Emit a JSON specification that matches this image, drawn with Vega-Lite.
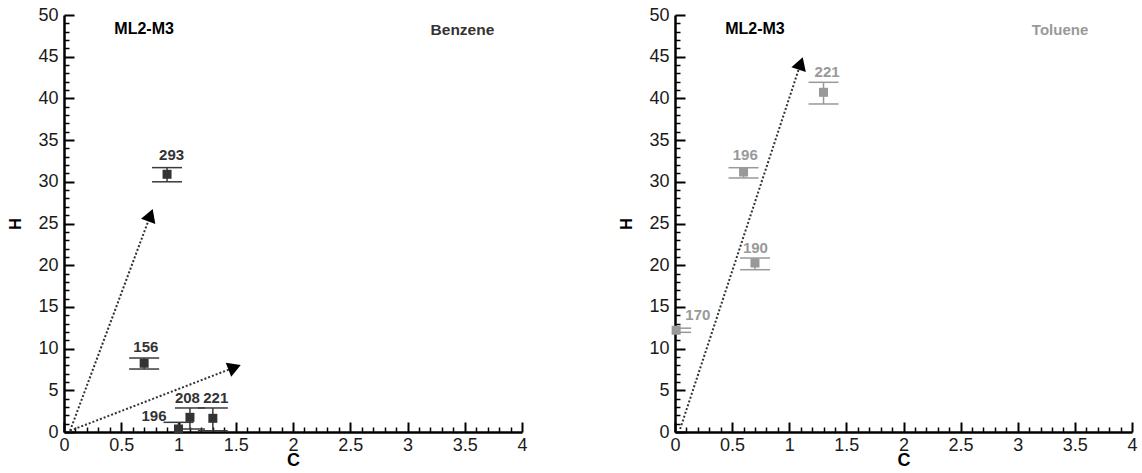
{
  "$schema": "https://vega.github.io/schema/vega-lite/v6.json",
  "padding": {"left": 7, "top": 6, "right": 0, "bottom": 0},
  "background": "white",
  "config": {"view": {"stroke": null}, "axis": {"grid": false}},
  "datasets": {
    "benz": [
      {"n": "293", "x": 0.90, "y": 30.9, "lo": 30.0, "hi": 31.7, "lx": 0.94, "ly": 33.2},
      {"n": "156", "x": 0.70, "y": 8.24, "lo": 7.55, "hi": 8.87, "lx": 0.715, "ly": 10.2},
      {"n": "208", "x": 1.10, "y": 1.76, "lo": 0.36, "hi": 2.88, "lx": 1.078, "ly": 4.08},
      {"n": "221", "x": 1.30, "y": 1.64, "lo": 0.15, "hi": 2.88, "lx": 1.325, "ly": 4.08},
      {"n": "196", "x": 1.00, "y": 0.36, "lo": -0.44, "hi": 1.16, "lx": 0.786, "ly": 1.95}
    ],
    "tol": [
      {"n": "221", "x": 1.30, "y": 40.73, "lo": 39.33, "hi": 41.93, "lx": 1.331, "ly": 43.13},
      {"n": "196", "x": 0.60, "y": 31.17, "lo": 30.46, "hi": 31.69, "lx": 0.615, "ly": 33.25},
      {"n": "190", "x": 0.70, "y": 20.26, "lo": 19.46, "hi": 20.86, "lx": 0.704, "ly": 22.06},
      {"n": "170", "x": 0.01, "y": 12.2, "lo": 11.95, "hi": 12.45, "lx": 0.20, "ly": 14.03}
    ],
    "notesL": [
      {"t": "ML2-M3", "x": 0.70, "y": 48.3, "k": "panel"},
      {"t": "Benzene", "x": 3.48, "y": 48.2, "k": "benzene"}
    ],
    "notesR": [
      {"t": "ML2-M3", "x": 0.70, "y": 48.3, "k": "panel"},
      {"t": "Toluene", "x": 3.37, "y": 48.2, "k": "toluene"}
    ],
    "arrowsL": [
      {"id": 1, "x1": 0.053, "y1": 0.15, "x2": 0.755, "y2": 26.0},
      {"id": 2, "x1": 0.053, "y1": 0.15, "x2": 1.49, "y2": 7.75}
    ],
    "arrowsR": [
      {"id": 1, "x1": 0.045, "y1": 0.36, "x2": 1.10, "y2": 44.2}
    ]
  },
  "hconcat": [
    {
      "width": 458, "height": 417,
      "resolve": {"axis": {"x": "independent", "y": "independent"}},
      "layer": [
        {"data": {"name": "benz"}, "mark": {"type": "rule", "color": "#3a3a3a", "strokeWidth": 1.5, "clip": true},
         "encoding": {"x": {"field": "x", "type": "quantitative", "scale": {"domain": [0, 4], "nice": false}, "axis": null},
                      "y": {"field": "lo", "type": "quantitative", "scale": {"domain": [0, 50], "nice": false}, "axis": null},
                      "y2": {"field": "hi"}}},
        {"data": {"name": "benz"}, "mark": {"type": "tick", "orient": "horizontal", "size": 30, "thickness": 1.5, "color": "#3a3a3a", "opacity": 1, "clip": true},
         "encoding": {"x": {"field": "x", "type": "quantitative", "scale": {"domain": [0, 4], "nice": false},
                            "axis": {"orient": "bottom", "values": [0.1,0.2,0.3,0.4,0.6,0.7,0.8,0.9,1.1,1.2,1.3,1.4,1.6,1.7,1.8,1.9,2.1,2.2,2.3,2.4,2.6,2.7,2.8,2.9,3.1,3.2,3.3,3.4,3.6,3.7,3.8,3.9], "tickSize": -5, "tickWidth": 1.5, "tickColor": "#000", "labels": false, "domain": false, "title": null}},
                      "y": {"field": "hi", "type": "quantitative", "scale": {"domain": [0, 50], "nice": false},
                            "axis": {"orient": "left", "values": [1,2,3,4,6,7,8,9,11,12,13,14,16,17,18,19,21,22,23,24,26,27,28,29,31,32,33,34,36,37,38,39,41,42,43,44,46,47,48,49], "tickSize": -5, "tickWidth": 1.5, "tickColor": "#000", "labels": false, "domain": false, "title": null}}}},
        {"data": {"name": "benz"}, "mark": {"type": "tick", "orient": "horizontal", "size": 30, "thickness": 1.5, "color": "#3a3a3a", "opacity": 1, "clip": true},
         "encoding": {"x": {"field": "x", "type": "quantitative", "scale": {"domain": [0, 4], "nice": false}, "axis": null},
                      "y": {"field": "lo", "type": "quantitative", "scale": {"domain": [0, 50], "nice": false}, "axis": null}}},
        {"data": {"name": "arrowsL"}, "mark": {"type": "rule", "color": "#333", "strokeWidth": 2, "strokeDash": [2, 2]},
         "encoding": {"x": {"field": "x1", "type": "quantitative", "scale": {"domain": [0, 4], "nice": false}, "axis": null},
                      "y": {"field": "y1", "type": "quantitative", "scale": {"domain": [0, 50], "nice": false}, "axis": null},
                      "x2": {"field": "x2"}, "y2": {"field": "y2"}}},
        {"data": {"name": "arrowsL"}, "transform": [{"filter": "datum.id == 1"}],
         "mark": {"type": "point", "shape": "triangle-up", "filled": true, "size": 230, "angle": 20, "color": "#000", "opacity": 1},
         "encoding": {"x": {"field": "x2", "type": "quantitative", "scale": {"domain": [0, 4], "nice": false}, "axis": null},
                      "y": {"field": "y2", "type": "quantitative", "scale": {"domain": [0, 50], "nice": false}, "axis": null}}},
        {"data": {"name": "arrowsL"}, "transform": [{"filter": "datum.id == 2"}],
         "mark": {"type": "point", "shape": "triangle-up", "filled": true, "size": 230, "angle": 69, "color": "#000", "opacity": 1},
         "encoding": {"x": {"field": "x2", "type": "quantitative", "scale": {"domain": [0, 4], "nice": false}, "axis": null},
                      "y": {"field": "y2", "type": "quantitative", "scale": {"domain": [0, 50], "nice": false}, "axis": null}}},
        {"data": {"name": "benz"}, "mark": {"type": "point", "shape": "square", "filled": true, "size": 81, "color": "#333", "opacity": 1},
         "encoding": {"x": {"field": "x", "type": "quantitative", "scale": {"domain": [0, 4], "nice": false},
                            "axis": {"orient": "bottom", "values": [0,0.5,1,1.5,2,2.5,3,3.5,4], "format": "~g", "tickSize": -10, "tickWidth": 2, "tickColor": "#000", "domainColor": "#000", "domainWidth": 2.5, "labelFont": "Liberation Sans", "labelFontSize": 18, "labelColor": "#1a1a1a", "labelPadding": 14, "labelFlush": false, "labelOverlap": false, "title": "C", "titleFont": "Liberation Sans", "titleFontSize": 18, "titleFontWeight": "bold", "titleColor": "#000", "titlePadding": -3}},
                      "y": {"field": "y", "type": "quantitative", "scale": {"domain": [0, 50], "nice": false},
                            "axis": {"orient": "left", "values": [0,5,10,15,20,25,30,35,40,45,50], "format": "~g", "tickSize": -10, "tickWidth": 2, "tickColor": "#000", "domainColor": "#000", "domainWidth": 2.5, "labelFont": "Liberation Sans", "labelFontSize": 18, "labelColor": "#1a1a1a", "labelPadding": 16, "labelFlush": false, "labelOverlap": false, "title": "H", "titleFont": "Liberation Sans", "titleFontSize": 16, "titleFontWeight": "bold", "titleColor": "#000", "titlePadding": 14}}}},
        {"data": {"name": "benz"}, "mark": {"type": "text", "font": "Liberation Sans", "fontSize": 15, "fontWeight": "bold", "color": "#333", "baseline": "middle"},
         "encoding": {"x": {"field": "lx", "type": "quantitative", "scale": {"domain": [0, 4], "nice": false}, "axis": null},
                      "y": {"field": "ly", "type": "quantitative", "scale": {"domain": [0, 50], "nice": false}, "axis": null},
                      "text": {"field": "n"}}},
        {"data": {"name": "notesL"}, "mark": {"type": "text", "font": "Liberation Sans", "fontSize": 15, "fontWeight": "bold", "baseline": "middle"},
         "encoding": {"x": {"field": "x", "type": "quantitative", "scale": {"domain": [0, 4], "nice": false}, "axis": null},
                      "y": {"field": "y", "type": "quantitative", "scale": {"domain": [0, 50], "nice": false}, "axis": null},
                      "text": {"field": "t"},
                      "size": {"field": "k", "type": "nominal", "scale": {"domain": ["panel", "benzene", "toluene"], "range": [16, 15, 15]}, "legend": null},
                      "color": {"field": "k", "type": "nominal", "scale": {"domain": ["panel", "benzene", "toluene"], "range": ["#000000", "#333333", "#999999"]}, "legend": null}}}
      ]
    },
    {
      "width": 457, "height": 417,
      "resolve": {"axis": {"x": "independent", "y": "independent"}},
      "layer": [
        {"data": {"name": "tol"}, "mark": {"type": "rule", "color": "#999", "strokeWidth": 1.5, "clip": true},
         "encoding": {"x": {"field": "x", "type": "quantitative", "scale": {"domain": [0, 4], "nice": false}, "axis": null},
                      "y": {"field": "lo", "type": "quantitative", "scale": {"domain": [0, 50], "nice": false}, "axis": null},
                      "y2": {"field": "hi"}}},
        {"data": {"name": "tol"}, "mark": {"type": "tick", "orient": "horizontal", "size": 30, "thickness": 1.5, "color": "#999", "opacity": 1, "clip": true},
         "encoding": {"x": {"field": "x", "type": "quantitative", "scale": {"domain": [0, 4], "nice": false},
                            "axis": {"orient": "bottom", "values": [0.1,0.2,0.3,0.4,0.6,0.7,0.8,0.9,1.1,1.2,1.3,1.4,1.6,1.7,1.8,1.9,2.1,2.2,2.3,2.4,2.6,2.7,2.8,2.9,3.1,3.2,3.3,3.4,3.6,3.7,3.8,3.9], "tickSize": -5, "tickWidth": 1.5, "tickColor": "#000", "labels": false, "domain": false, "title": null}},
                      "y": {"field": "hi", "type": "quantitative", "scale": {"domain": [0, 50], "nice": false},
                            "axis": {"orient": "left", "values": [1,2,3,4,6,7,8,9,11,12,13,14,16,17,18,19,21,22,23,24,26,27,28,29,31,32,33,34,36,37,38,39,41,42,43,44,46,47,48,49], "tickSize": -5, "tickWidth": 1.5, "tickColor": "#000", "labels": false, "domain": false, "title": null}}}},
        {"data": {"name": "tol"}, "mark": {"type": "tick", "orient": "horizontal", "size": 30, "thickness": 1.5, "color": "#999", "opacity": 1, "clip": true},
         "encoding": {"x": {"field": "x", "type": "quantitative", "scale": {"domain": [0, 4], "nice": false}, "axis": null},
                      "y": {"field": "lo", "type": "quantitative", "scale": {"domain": [0, 50], "nice": false}, "axis": null}}},
        {"data": {"name": "arrowsR"}, "mark": {"type": "rule", "color": "#333", "strokeWidth": 2, "strokeDash": [2, 2]},
         "encoding": {"x": {"field": "x1", "type": "quantitative", "scale": {"domain": [0, 4], "nice": false}, "axis": null},
                      "y": {"field": "y1", "type": "quantitative", "scale": {"domain": [0, 50], "nice": false}, "axis": null},
                      "x2": {"field": "x2"}, "y2": {"field": "y2"}}},
        {"data": {"name": "arrowsR"},
         "mark": {"type": "point", "shape": "triangle-up", "filled": true, "size": 230, "angle": 18, "color": "#000", "opacity": 1},
         "encoding": {"x": {"field": "x2", "type": "quantitative", "scale": {"domain": [0, 4], "nice": false}, "axis": null},
                      "y": {"field": "y2", "type": "quantitative", "scale": {"domain": [0, 50], "nice": false}, "axis": null}}},
        {"data": {"name": "tol"}, "mark": {"type": "point", "shape": "square", "filled": true, "size": 81, "color": "#999", "opacity": 1},
         "encoding": {"x": {"field": "x", "type": "quantitative", "scale": {"domain": [0, 4], "nice": false},
                            "axis": {"orient": "bottom", "values": [0,0.5,1,1.5,2,2.5,3,3.5,4], "format": "~g", "tickSize": -10, "tickWidth": 2, "tickColor": "#000", "domainColor": "#000", "domainWidth": 2.5, "labelFont": "Liberation Sans", "labelFontSize": 18, "labelColor": "#1a1a1a", "labelPadding": 14, "labelFlush": false, "labelOverlap": false, "title": "C", "titleFont": "Liberation Sans", "titleFontSize": 18, "titleFontWeight": "bold", "titleColor": "#000", "titlePadding": -3}},
                      "y": {"field": "y", "type": "quantitative", "scale": {"domain": [0, 50], "nice": false},
                            "axis": {"orient": "left", "values": [0,5,10,15,20,25,30,35,40,45,50], "format": "~g", "tickSize": -10, "tickWidth": 2, "tickColor": "#000", "domainColor": "#000", "domainWidth": 2.5, "labelFont": "Liberation Sans", "labelFontSize": 18, "labelColor": "#1a1a1a", "labelPadding": 16, "labelFlush": false, "labelOverlap": false, "title": "H", "titleFont": "Liberation Sans", "titleFontSize": 16, "titleFontWeight": "bold", "titleColor": "#000", "titlePadding": 14}}}},
        {"data": {"name": "tol"}, "mark": {"type": "text", "font": "Liberation Sans", "fontSize": 15, "fontWeight": "bold", "color": "#999", "baseline": "middle"},
         "encoding": {"x": {"field": "lx", "type": "quantitative", "scale": {"domain": [0, 4], "nice": false}, "axis": null},
                      "y": {"field": "ly", "type": "quantitative", "scale": {"domain": [0, 50], "nice": false}, "axis": null},
                      "text": {"field": "n"}}},
        {"data": {"name": "notesR"}, "mark": {"type": "text", "font": "Liberation Sans", "fontSize": 15, "fontWeight": "bold", "baseline": "middle"},
         "encoding": {"x": {"field": "x", "type": "quantitative", "scale": {"domain": [0, 4], "nice": false}, "axis": null},
                      "y": {"field": "y", "type": "quantitative", "scale": {"domain": [0, 50], "nice": false}, "axis": null},
                      "text": {"field": "t"},
                      "size": {"field": "k", "type": "nominal", "scale": {"domain": ["panel", "benzene", "toluene"], "range": [16, 15, 15]}, "legend": null},
                      "color": {"field": "k", "type": "nominal", "scale": {"domain": ["panel", "benzene", "toluene"], "range": ["#000000", "#333333", "#999999"]}, "legend": null}}}
      ]
    }
  ],
  "spacing": 90
}
